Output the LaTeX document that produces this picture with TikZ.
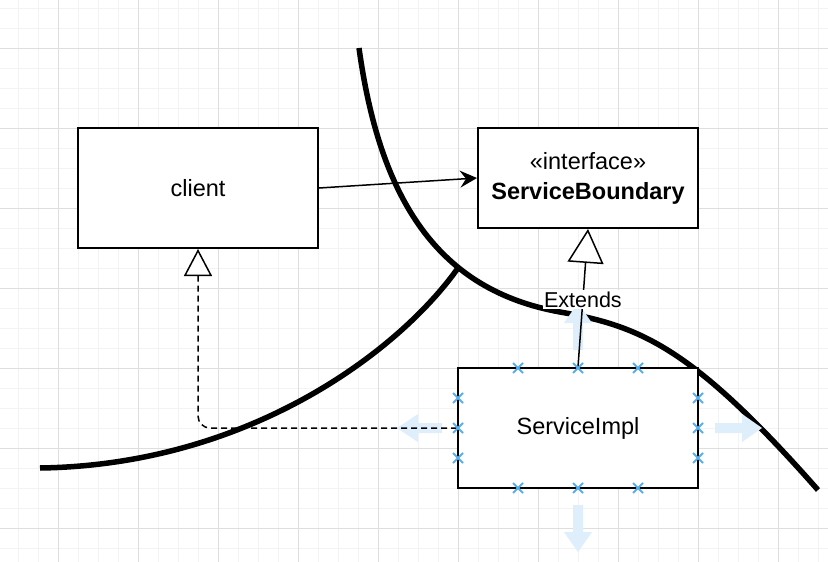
\documentclass[tikz,border=0pt]{standalone}
\usepackage{fontspec}
\setmainfont{Liberation Sans}
\usetikzlibrary{arrows.meta}
\definecolor{gridminor}{RGB}{243,243,243}
\definecolor{gridmajor}{RGB}{222,222,222}
\definecolor{hoverblue}{RGB}{222,238,250}
\definecolor{crossblue}{RGB}{90,175,235}
\begin{document}
\begin{tikzpicture}[x=1pt,y=-1pt,
  box/.style={draw, line width=2pt, fill=white, inner sep=0pt, align=center,
    font=\fontsize{23.5}{30}\selectfont},
  bound/.style={line width=5.5pt},
  conn/.style={line width=1.5pt},
  dashconn/.style={line width=1.5pt, dash pattern=on 6pt off 4pt},
  hover/.style={fill=hoverblue},
  crs/.style={draw=crossblue, line width=1.8pt},
  lbl/.style={fill=white, inner sep=1.5pt, font=\fontsize{21.5}{24}\selectfont}]
\useasboundingbox (0,0) rectangle (828,562);
\fill[white] (0,0) rectangle (828,562);
% grid
\foreach \x in {18,38,...,818} \draw[gridminor, line width=1pt] (\x,0) -- (\x,562);
\foreach \y in {8,28,...,548} \draw[gridminor, line width=1pt] (0,\y) -- (828,\y);
\foreach \x in {58,138,...,778} \draw[gridmajor, line width=1pt] (\x,0) -- (\x,562);
\foreach \y in {48,128,...,528} \draw[gridmajor, line width=1pt] (0,\y) -- (828,\y);
% boundary curves
\draw[bound] (359,48) .. controls (380,200) and (438,290) .. (560,312)
  .. controls (640,326) and (692,347) .. (818,490);
\draw[bound] (40,468) .. controls (250,465) and (400,350) .. (458,268);
% hover arrows
\fill[hover] (397,428) -- (418,414) -- (418,423) -- (442,423) -- (442,433) -- (418,433) -- (418,442) -- cycle;
\fill[hover] (762,428) -- (742,414) -- (742,423) -- (715,423) -- (715,433) -- (742,433) -- (742,442) -- cycle;
\fill[hover] (578,552) -- (564,532) -- (573,532) -- (573,505) -- (583,505) -- (583,532) -- (592,532) -- cycle;
\fill[hover] (578,303) -- (564,323) -- (573,323) -- (573,350) -- (583,350) -- (583,323) -- (592,323) -- cycle;
% nodes
\node[box, minimum width=240pt, minimum height=120pt] (client) at (198,188) {client};
\node[box, minimum width=220pt, minimum height=100pt] (boundary) at (588,178) {«interface»\\\textbf{ServiceBoundary}};
\node[box, minimum width=240pt, minimum height=120pt] (impl) at (578,428) {ServiceImpl};
% connectors
\draw[conn, -{Stealth[length=17pt, width=17pt, inset=6pt]}] (client.east) -- (boundary.west);
\draw[conn, -{Triangle[open, fill=white, length=34pt, width=36pt]}] (impl.north) -- (boundary.south)
  node[lbl, pos=0.49] (ext) {Extends};
\draw[dashconn, rounded corners=12pt, -{Triangle[open, fill=white, length=27pt, width=28pt, line width=1.5pt]}] (impl.west) -| (client.south);
% connection point crosses
\foreach \px/\py in {518/368, 578/368, 638/368, 518/488, 578/488, 638/488,
                     458/398, 458/428, 458/458, 698/398, 698/428, 698/458}
  \draw[crs] (\px-5,\py-5) -- (\px+5,\py+5) (\px-5,\py+5) -- (\px+5,\py-5);
\end{tikzpicture}
\end{document}
